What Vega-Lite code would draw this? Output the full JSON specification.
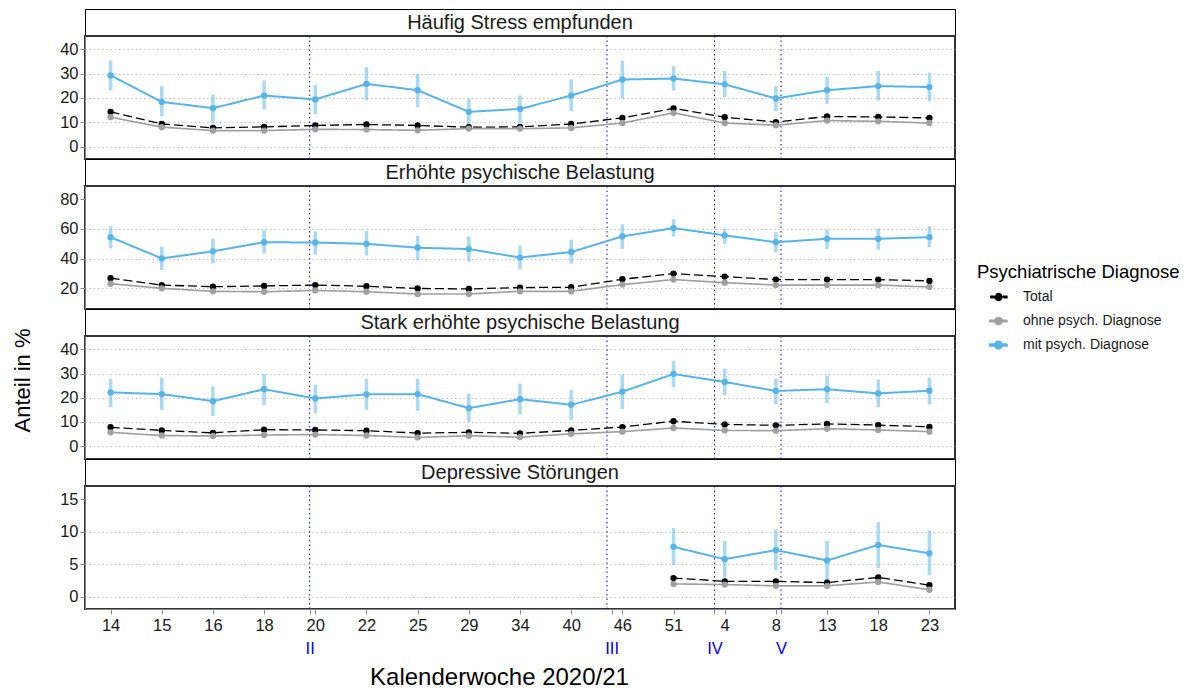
{
  "$schema": "https://vega.github.io/schema/vega-lite/v6.json",
  "padding": {"left": 10, "top": 8, "right": 5, "bottom": 5},
  "background": "white",
  "bounds": "flush",
  "config": {
    "font": "Liberation Sans",
    "axis": {"labelFont": "Liberation Sans", "titleFont": "Liberation Sans", "labelColor": "#1a1a1a", "titleColor": "#000", "tickColor": "#888", "domainColor": "#888", "tickSize": 5, "labelFontSize": 16.5, "titleFontWeight": "normal", "labelOverlap": false},
    "legend": {"labelFont": "Liberation Sans", "titleFont": "Liberation Sans", "orient": "none", "legendX": 892, "legendY": 254, "titleFontSize": 18.5, "titleFontWeight": "normal", "titleColor": "#000", "titleLimit": 400, "labelLimit": 300, "labelFontSize": 14, "labelColor": "#1a1a1a", "symbolType": "M-1,-0.09H1V0.09H-1Z M0.41,0 A0.41,0.41 0 1,1 -0.41,0 A0.41,0.41 0 1,1 0.41,0Z", "symbolSize": 289, "symbolStrokeWidth": 0, "symbolOffset": 12, "rowPadding": 7, "labelOffset": 15, "titlePadding": 6}
  },
  "spacing": 0,
  "datasets": {
    "strips": [
      {"p": 1, "label": "Häufig Stress empfunden"},
      {"p": 2, "label": "Erhöhte psychische Belastung"},
      {"p": 3, "label": "Stark erhöhte psychische Belastung"},
      {"p": 4, "label": "Depressive Störungen"}
    ],
    "vl": [
      {"i": 3.89, "welle": "II"},
      {"i": 9.7, "welle": "III"},
      {"i": 11.8, "welle": "IV"},
      {"i": 13.1, "welle": "V"}
    ],
    "d": [
      {"p":1,"i":0,"g":"mit psych. Diagnose","v":29.3,"lo":23.1,"hi":35.5},
      {"p":1,"i":1,"g":"mit psych. Diagnose","v":18.4,"lo":12.5,"hi":24.9},
      {"p":1,"i":2,"g":"mit psych. Diagnose","v":15.8,"lo":9.7,"hi":21.4},
      {"p":1,"i":3,"g":"mit psych. Diagnose","v":21.0,"lo":15.3,"hi":27.2},
      {"p":1,"i":4,"g":"mit psych. Diagnose","v":19.4,"lo":13.4,"hi":25.3},
      {"p":1,"i":5,"g":"mit psych. Diagnose","v":25.8,"lo":19.0,"hi":32.7},
      {"p":1,"i":6,"g":"mit psych. Diagnose","v":23.2,"lo":16.2,"hi":29.9},
      {"p":1,"i":7,"g":"mit psych. Diagnose","v":14.3,"lo":8.8,"hi":19.8},
      {"p":1,"i":8,"g":"mit psych. Diagnose","v":15.5,"lo":9.7,"hi":21.0},
      {"p":1,"i":9,"g":"mit psych. Diagnose","v":21.0,"lo":14.6,"hi":27.6},
      {"p":1,"i":10,"g":"mit psych. Diagnose","v":27.6,"lo":20.0,"hi":35.2},
      {"p":1,"i":11,"g":"mit psych. Diagnose","v":28.0,"lo":23.1,"hi":33.1},
      {"p":1,"i":12,"g":"mit psych. Diagnose","v":25.6,"lo":20.3,"hi":31.1},
      {"p":1,"i":13,"g":"mit psych. Diagnose","v":19.8,"lo":14.6,"hi":24.9},
      {"p":1,"i":14,"g":"mit psych. Diagnose","v":23.2,"lo":17.6,"hi":28.6},
      {"p":1,"i":15,"g":"mit psych. Diagnose","v":24.9,"lo":19.0,"hi":31.1},
      {"p":1,"i":16,"g":"mit psych. Diagnose","v":24.5,"lo":18.7,"hi":30.4},
      {"p":1,"i":0,"g":"Total","v":14.3},
      {"p":1,"i":1,"g":"Total","v":9.3},
      {"p":1,"i":2,"g":"Total","v":7.7},
      {"p":1,"i":3,"g":"Total","v":8.1},
      {"p":1,"i":4,"g":"Total","v":8.7},
      {"p":1,"i":5,"g":"Total","v":9.1},
      {"p":1,"i":6,"g":"Total","v":8.7},
      {"p":1,"i":7,"g":"Total","v":8.0},
      {"p":1,"i":8,"g":"Total","v":8.1},
      {"p":1,"i":9,"g":"Total","v":9.3},
      {"p":1,"i":10,"g":"Total","v":11.8},
      {"p":1,"i":11,"g":"Total","v":15.7},
      {"p":1,"i":12,"g":"Total","v":12.1},
      {"p":1,"i":13,"g":"Total","v":10.1},
      {"p":1,"i":14,"g":"Total","v":12.4},
      {"p":1,"i":15,"g":"Total","v":12.2},
      {"p":1,"i":16,"g":"Total","v":11.8},
      {"p":1,"i":0,"g":"ohne psych. Diagnose","v":12.1},
      {"p":1,"i":1,"g":"ohne psych. Diagnose","v":8.0},
      {"p":1,"i":2,"g":"ohne psych. Diagnose","v":6.6},
      {"p":1,"i":3,"g":"ohne psych. Diagnose","v":6.6},
      {"p":1,"i":4,"g":"ohne psych. Diagnose","v":7.1},
      {"p":1,"i":5,"g":"ohne psych. Diagnose","v":7.0},
      {"p":1,"i":6,"g":"ohne psych. Diagnose","v":6.7},
      {"p":1,"i":7,"g":"ohne psych. Diagnose","v":7.4},
      {"p":1,"i":8,"g":"ohne psych. Diagnose","v":7.4},
      {"p":1,"i":9,"g":"ohne psych. Diagnose","v":7.7},
      {"p":1,"i":10,"g":"ohne psych. Diagnose","v":9.7},
      {"p":1,"i":11,"g":"ohne psych. Diagnose","v":13.9},
      {"p":1,"i":12,"g":"ohne psych. Diagnose","v":9.7},
      {"p":1,"i":13,"g":"ohne psych. Diagnose","v":8.8},
      {"p":1,"i":14,"g":"ohne psych. Diagnose","v":10.7},
      {"p":1,"i":15,"g":"ohne psych. Diagnose","v":10.4},
      {"p":1,"i":16,"g":"ohne psych. Diagnose","v":9.7},

      {"p":2,"i":0,"g":"mit psych. Diagnose","v":54.4,"lo":46.9,"hi":61.7},
      {"p":2,"i":1,"g":"mit psych. Diagnose","v":40.1,"lo":32.2,"hi":48.1},
      {"p":2,"i":2,"g":"mit psych. Diagnose","v":44.9,"lo":36.7,"hi":53.3},
      {"p":2,"i":3,"g":"mit psych. Diagnose","v":51.0,"lo":43.5,"hi":59.0},
      {"p":2,"i":4,"g":"mit psych. Diagnose","v":50.8,"lo":42.7,"hi":58.3},
      {"p":2,"i":5,"g":"mit psych. Diagnose","v":49.9,"lo":42.0,"hi":58.5},
      {"p":2,"i":6,"g":"mit psych. Diagnose","v":47.3,"lo":38.9,"hi":55.4},
      {"p":2,"i":7,"g":"mit psych. Diagnose","v":46.4,"lo":38.0,"hi":54.8},
      {"p":2,"i":8,"g":"mit psych. Diagnose","v":40.7,"lo":32.5,"hi":48.6},
      {"p":2,"i":9,"g":"mit psych. Diagnose","v":44.4,"lo":36.6,"hi":52.7},
      {"p":2,"i":10,"g":"mit psych. Diagnose","v":54.9,"lo":46.5,"hi":63.1},
      {"p":2,"i":11,"g":"mit psych. Diagnose","v":60.5,"lo":54.9,"hi":66.5},
      {"p":2,"i":12,"g":"mit psych. Diagnose","v":55.6,"lo":49.9,"hi":60.1},
      {"p":2,"i":13,"g":"mit psych. Diagnose","v":51.0,"lo":44.2,"hi":57.8},
      {"p":2,"i":14,"g":"mit psych. Diagnose","v":53.3,"lo":46.5,"hi":59.5},
      {"p":2,"i":15,"g":"mit psych. Diagnose","v":53.3,"lo":45.9,"hi":60.1},
      {"p":2,"i":16,"g":"mit psych. Diagnose","v":54.4,"lo":47.6,"hi":61.7},
      {"p":2,"i":0,"g":"Total","v":26.8},
      {"p":2,"i":1,"g":"Total","v":22.2},
      {"p":2,"i":2,"g":"Total","v":21.1},
      {"p":2,"i":3,"g":"Total","v":21.6},
      {"p":2,"i":4,"g":"Total","v":22.2},
      {"p":2,"i":5,"g":"Total","v":21.4},
      {"p":2,"i":6,"g":"Total","v":19.9},
      {"p":2,"i":7,"g":"Total","v":19.6},
      {"p":2,"i":8,"g":"Total","v":20.5},
      {"p":2,"i":9,"g":"Total","v":20.7},
      {"p":2,"i":10,"g":"Total","v":26.1},
      {"p":2,"i":11,"g":"Total","v":29.9},
      {"p":2,"i":12,"g":"Total","v":27.9},
      {"p":2,"i":13,"g":"Total","v":25.9},
      {"p":2,"i":14,"g":"Total","v":25.9},
      {"p":2,"i":15,"g":"Total","v":25.9},
      {"p":2,"i":16,"g":"Total","v":25.0},
      {"p":2,"i":0,"g":"ohne psych. Diagnose","v":23.1},
      {"p":2,"i":1,"g":"ohne psych. Diagnose","v":20.0},
      {"p":2,"i":2,"g":"ohne psych. Diagnose","v":18.0},
      {"p":2,"i":3,"g":"ohne psych. Diagnose","v":17.7},
      {"p":2,"i":4,"g":"ohne psych. Diagnose","v":18.6},
      {"p":2,"i":5,"g":"ohne psych. Diagnose","v":17.7},
      {"p":2,"i":6,"g":"ohne psych. Diagnose","v":16.2},
      {"p":2,"i":7,"g":"ohne psych. Diagnose","v":16.2},
      {"p":2,"i":8,"g":"ohne psych. Diagnose","v":18.0},
      {"p":2,"i":9,"g":"ohne psych. Diagnose","v":18.0},
      {"p":2,"i":10,"g":"ohne psych. Diagnose","v":22.5},
      {"p":2,"i":11,"g":"ohne psych. Diagnose","v":25.9},
      {"p":2,"i":12,"g":"ohne psych. Diagnose","v":23.8},
      {"p":2,"i":13,"g":"ohne psych. Diagnose","v":22.2},
      {"p":2,"i":14,"g":"ohne psych. Diagnose","v":22.2},
      {"p":2,"i":15,"g":"ohne psych. Diagnose","v":22.2},
      {"p":2,"i":16,"g":"ohne psych. Diagnose","v":20.9},

      {"p":3,"i":0,"g":"mit psych. Diagnose","v":22.2,"lo":16.1,"hi":27.8},
      {"p":3,"i":1,"g":"mit psych. Diagnose","v":21.5,"lo":15.0,"hi":28.3},
      {"p":3,"i":2,"g":"mit psych. Diagnose","v":18.6,"lo":12.5,"hi":24.7},
      {"p":3,"i":3,"g":"mit psych. Diagnose","v":23.5,"lo":16.9,"hi":29.8},
      {"p":3,"i":4,"g":"mit psych. Diagnose","v":19.7,"lo":13.6,"hi":25.4},
      {"p":3,"i":5,"g":"mit psych. Diagnose","v":21.4,"lo":15.0,"hi":27.9},
      {"p":3,"i":6,"g":"mit psych. Diagnose","v":21.5,"lo":14.6,"hi":27.9},
      {"p":3,"i":7,"g":"mit psych. Diagnose","v":15.7,"lo":10.0,"hi":21.7},
      {"p":3,"i":8,"g":"mit psych. Diagnose","v":19.4,"lo":13.2,"hi":25.8},
      {"p":3,"i":9,"g":"mit psych. Diagnose","v":17.1,"lo":10.8,"hi":23.3},
      {"p":3,"i":10,"g":"mit psych. Diagnose","v":22.5,"lo":15.3,"hi":29.6},
      {"p":3,"i":11,"g":"mit psych. Diagnose","v":29.8,"lo":24.4,"hi":35.1},
      {"p":3,"i":12,"g":"mit psych. Diagnose","v":26.5,"lo":21.1,"hi":32.1},
      {"p":3,"i":13,"g":"mit psych. Diagnose","v":22.8,"lo":17.3,"hi":27.9},
      {"p":3,"i":14,"g":"mit psych. Diagnose","v":23.5,"lo":17.8,"hi":29.2},
      {"p":3,"i":15,"g":"mit psych. Diagnose","v":21.8,"lo":16.1,"hi":27.5},
      {"p":3,"i":16,"g":"mit psych. Diagnose","v":22.9,"lo":17.3,"hi":28.3},
      {"p":3,"i":0,"g":"Total","v":7.8},
      {"p":3,"i":1,"g":"Total","v":6.5},
      {"p":3,"i":2,"g":"Total","v":5.5},
      {"p":3,"i":3,"g":"Total","v":6.8},
      {"p":3,"i":4,"g":"Total","v":6.7},
      {"p":3,"i":5,"g":"Total","v":6.4},
      {"p":3,"i":6,"g":"Total","v":5.4},
      {"p":3,"i":7,"g":"Total","v":5.7},
      {"p":3,"i":8,"g":"Total","v":5.3},
      {"p":3,"i":9,"g":"Total","v":6.5},
      {"p":3,"i":10,"g":"Total","v":7.9},
      {"p":3,"i":11,"g":"Total","v":10.3},
      {"p":3,"i":12,"g":"Total","v":9.0},
      {"p":3,"i":13,"g":"Total","v":8.6},
      {"p":3,"i":14,"g":"Total","v":9.2},
      {"p":3,"i":15,"g":"Total","v":8.7},
      {"p":3,"i":16,"g":"Total","v":8.0},
      {"p":3,"i":0,"g":"ohne psych. Diagnose","v":5.7},
      {"p":3,"i":1,"g":"ohne psych. Diagnose","v":4.4},
      {"p":3,"i":2,"g":"ohne psych. Diagnose","v":4.2},
      {"p":3,"i":3,"g":"ohne psych. Diagnose","v":4.6},
      {"p":3,"i":4,"g":"ohne psych. Diagnose","v":4.8},
      {"p":3,"i":5,"g":"ohne psych. Diagnose","v":4.4},
      {"p":3,"i":6,"g":"ohne psych. Diagnose","v":3.6},
      {"p":3,"i":7,"g":"ohne psych. Diagnose","v":4.3},
      {"p":3,"i":8,"g":"ohne psych. Diagnose","v":3.7},
      {"p":3,"i":9,"g":"ohne psych. Diagnose","v":5.1},
      {"p":3,"i":10,"g":"ohne psych. Diagnose","v":6.0},
      {"p":3,"i":11,"g":"ohne psych. Diagnose","v":7.5},
      {"p":3,"i":12,"g":"ohne psych. Diagnose","v":6.5},
      {"p":3,"i":13,"g":"ohne psych. Diagnose","v":6.4},
      {"p":3,"i":14,"g":"ohne psych. Diagnose","v":7.2},
      {"p":3,"i":15,"g":"ohne psych. Diagnose","v":6.7},
      {"p":3,"i":16,"g":"ohne psych. Diagnose","v":6.0},

      {"p":4,"i":11,"g":"mit psych. Diagnose","v":7.7,"lo":4.9,"hi":10.6},
      {"p":4,"i":12,"g":"mit psych. Diagnose","v":5.8,"lo":3.0,"hi":8.6},
      {"p":4,"i":13,"g":"mit psych. Diagnose","v":7.2,"lo":4.1,"hi":10.4},
      {"p":4,"i":14,"g":"mit psych. Diagnose","v":5.6,"lo":2.5,"hi":8.6},
      {"p":4,"i":15,"g":"mit psych. Diagnose","v":8.0,"lo":4.4,"hi":11.5},
      {"p":4,"i":16,"g":"mit psych. Diagnose","v":6.7,"lo":3.4,"hi":10.2},
      {"p":4,"i":11,"g":"Total","v":2.9},
      {"p":4,"i":12,"g":"Total","v":2.4},
      {"p":4,"i":13,"g":"Total","v":2.4},
      {"p":4,"i":14,"g":"Total","v":2.2},
      {"p":4,"i":15,"g":"Total","v":3.0},
      {"p":4,"i":16,"g":"Total","v":1.8},
      {"p":4,"i":11,"g":"ohne psych. Diagnose","v":2.0},
      {"p":4,"i":12,"g":"ohne psych. Diagnose","v":1.9},
      {"p":4,"i":13,"g":"ohne psych. Diagnose","v":1.7},
      {"p":4,"i":14,"g":"ohne psych. Diagnose","v":1.7},
      {"p":4,"i":15,"g":"ohne psych. Diagnose","v":2.3},
      {"p":4,"i":16,"g":"ohne psych. Diagnose","v":1.1}
    ]
  },
  "vconcat": [
    {"width": 870, "height": 27, "view": {"stroke": "#000", "strokeWidth": 1, "fill": "white"},
     "data": {"name": "strips"}, "transform": [{"filter": "datum.p == 1"}],
     "mark": {"type": "text", "fontSize": 20, "color": "#1a1a1a"}, "encoding": {"text": {"field": "label"}}},
    {"width": 870, "height": 123, "view": {"stroke": "#333", "strokeWidth": 2},
     "layer": [
       {"data": {"name": "vl"}, "mark": {"type": "rule", "color": "#0000ff", "strokeDash": [1.5, 3], "strokeWidth": 1},
        "encoding": {"x": {"field": "i", "type": "quantitative", "scale": {"domain": [-0.5, 16.5], "nice": false, "zero": false}, "axis": null}}},
       {"data": {"name": "d"}, "transform": [{"filter": "datum.p == 1 && isValid(datum.lo)"}],
        "mark": {"type": "rule", "strokeWidth": 3.5, "opacity": 0.5, "color": "#56B4E9"},
        "encoding": {"x": {"field": "i", "type": "quantitative", "axis": null},
                     "y": {"field": "lo", "type": "quantitative", "scale": {"domain": [-5.1, 45.5], "nice": false, "zero": false}, "axis": {"values": [0, 10, 20, 30, 40], "title": null, "grid": true, "gridDash": [1.2, 3], "gridColor": "#bbbbbb"}},
                     "y2": {"field": "hi"}}},
       {"data": {"name": "d"}, "transform": [{"filter": "datum.p == 1"}],
        "mark": {"type": "line"},
        "encoding": {"x": {"field": "i", "type": "quantitative", "axis": null},
                     "y": {"field": "v", "type": "quantitative", "scale": {"domain": [-5.1, 45.5], "nice": false, "zero": false}, "axis": {"values": [0, 10, 20, 30, 40], "title": null, "grid": true, "gridDash": [1.2, 3], "gridColor": "#bbbbbb"}},
                     "color": {"field": "g", "type": "nominal", "title": "Psychiatrische Diagnose", "scale": {"domain": ["Total", "ohne psych. Diagnose", "mit psych. Diagnose"], "range": ["#000000", "#a0a0a0", "#56B4E9"]}, "legend": {}},
                     "strokeDash": {"field": "g", "type": "nominal", "scale": {"domain": ["Total", "ohne psych. Diagnose", "mit psych. Diagnose"], "range": [[9, 4], [1, 0], [1, 0]]}, "legend": null},
                     "strokeWidth": {"field": "g", "type": "nominal", "scale": {"domain": ["Total", "ohne psych. Diagnose", "mit psych. Diagnose"], "range": [1.3, 2, 2]}, "legend": null}}},
       {"data": {"name": "d"}, "transform": [{"filter": "datum.p == 1"}],
        "mark": {"type": "point", "filled": true, "size": 40, "opacity": 1},
        "encoding": {"x": {"field": "i", "type": "quantitative", "axis": null},
                     "y": {"field": "v", "type": "quantitative", "scale": {"domain": [-5.1, 45.5], "nice": false, "zero": false}, "axis": {"values": [0, 10, 20, 30, 40], "title": null, "grid": true, "gridDash": [1.2, 3], "gridColor": "#bbbbbb"}},
                     "color": {"field": "g", "type": "nominal", "title": "Psychiatrische Diagnose", "legend": {}}}}
     ]},
    {"width": 870, "height": 27, "view": {"stroke": "#000", "strokeWidth": 1, "fill": "white"},
     "data": {"name": "strips"}, "transform": [{"filter": "datum.p == 2"}],
     "mark": {"type": "text", "fontSize": 20, "color": "#1a1a1a"}, "encoding": {"text": {"field": "label"}}},
    {"width": 870, "height": 123, "view": {"stroke": "#333", "strokeWidth": 2},
     "layer": [
       {"data": {"name": "vl"}, "mark": {"type": "rule", "color": "#0000ff", "strokeDash": [1.5, 3], "strokeWidth": 1},
        "encoding": {"x": {"field": "i", "type": "quantitative", "scale": {"domain": [-0.5, 16.5], "nice": false, "zero": false}, "axis": null}}},
       {"data": {"name": "d"}, "transform": [{"filter": "datum.p == 2 && isValid(datum.lo)"}],
        "mark": {"type": "rule", "strokeWidth": 3.5, "opacity": 0.5, "color": "#56B4E9"},
        "encoding": {"x": {"field": "i", "type": "quantitative", "axis": null},
                     "y": {"field": "lo", "type": "quantitative", "scale": {"domain": [6.1, 88.8], "nice": false, "zero": false}, "axis": {"values": [20, 40, 60, 80], "title": null, "grid": true, "gridDash": [1.2, 3], "gridColor": "#bbbbbb", "gridOpacity": {"condition": {"test": "datum.value >= 80", "value": 0}, "value": 1}}},
                     "y2": {"field": "hi"}}},
       {"data": {"name": "d"}, "transform": [{"filter": "datum.p == 2"}],
        "mark": {"type": "line"},
        "encoding": {"x": {"field": "i", "type": "quantitative", "axis": null},
                     "y": {"field": "v", "type": "quantitative", "scale": {"domain": [6.1, 88.8], "nice": false, "zero": false}, "axis": {"values": [20, 40, 60, 80], "title": null, "grid": true, "gridDash": [1.2, 3], "gridColor": "#bbbbbb", "gridOpacity": {"condition": {"test": "datum.value >= 80", "value": 0}, "value": 1}}},
                     "color": {"field": "g", "type": "nominal", "title": "Psychiatrische Diagnose", "legend": {}},
                     "strokeDash": {"field": "g", "type": "nominal", "legend": null},
                     "strokeWidth": {"field": "g", "type": "nominal", "legend": null}}},
       {"data": {"name": "d"}, "transform": [{"filter": "datum.p == 2"}],
        "mark": {"type": "point", "filled": true, "size": 40, "opacity": 1},
        "encoding": {"x": {"field": "i", "type": "quantitative", "axis": null},
                     "y": {"field": "v", "type": "quantitative", "scale": {"domain": [6.1, 88.8], "nice": false, "zero": false}, "axis": {"values": [20, 40, 60, 80], "title": null, "grid": true, "gridDash": [1.2, 3], "gridColor": "#bbbbbb", "gridOpacity": {"condition": {"test": "datum.value >= 80", "value": 0}, "value": 1}}},
                     "color": {"field": "g", "type": "nominal", "title": "Psychiatrische Diagnose", "legend": {}}}}
     ]},
    {"width": 870, "height": 27, "view": {"stroke": "#000", "strokeWidth": 1, "fill": "white"},
     "data": {"name": "strips"}, "transform": [{"filter": "datum.p == 3"}],
     "mark": {"type": "text", "fontSize": 20, "color": "#1a1a1a"}, "encoding": {"text": {"field": "label"}}},
    {"width": 870, "height": 123, "view": {"stroke": "#333", "strokeWidth": 2},
     "layer": [
       {"data": {"name": "vl"}, "mark": {"type": "rule", "color": "#0000ff", "strokeDash": [1.5, 3], "strokeWidth": 1},
        "encoding": {"x": {"field": "i", "type": "quantitative", "scale": {"domain": [-0.5, 16.5], "nice": false, "zero": false}, "axis": null}}},
       {"data": {"name": "d"}, "transform": [{"filter": "datum.p == 3 && isValid(datum.lo)"}],
        "mark": {"type": "rule", "strokeWidth": 3.5, "opacity": 0.5, "color": "#56B4E9"},
        "encoding": {"x": {"field": "i", "type": "quantitative", "axis": null},
                     "y": {"field": "lo", "type": "quantitative", "scale": {"domain": [-5.3, 45.5], "nice": false, "zero": false}, "axis": {"values": [0, 10, 20, 30, 40], "title": "Anteil in %", "titleFontSize": 22, "titlePadding": 25, "titleY": 44, "grid": true, "gridDash": [1.2, 3], "gridColor": "#bbbbbb"}},
                     "y2": {"field": "hi"}}},
       {"data": {"name": "d"}, "transform": [{"filter": "datum.p == 3"}],
        "mark": {"type": "line"},
        "encoding": {"x": {"field": "i", "type": "quantitative", "axis": null},
                     "y": {"field": "v", "type": "quantitative", "scale": {"domain": [-5.3, 45.5], "nice": false, "zero": false}, "axis": {"values": [0, 10, 20, 30, 40], "title": "Anteil in %", "titleFontSize": 22, "titlePadding": 25, "titleY": 44, "grid": true, "gridDash": [1.2, 3], "gridColor": "#bbbbbb"}},
                     "color": {"field": "g", "type": "nominal", "title": "Psychiatrische Diagnose", "legend": {}},
                     "strokeDash": {"field": "g", "type": "nominal", "legend": null},
                     "strokeWidth": {"field": "g", "type": "nominal", "legend": null}}},
       {"data": {"name": "d"}, "transform": [{"filter": "datum.p == 3"}],
        "mark": {"type": "point", "filled": true, "size": 40, "opacity": 1},
        "encoding": {"x": {"field": "i", "type": "quantitative", "axis": null},
                     "y": {"field": "v", "type": "quantitative", "scale": {"domain": [-5.3, 45.5], "nice": false, "zero": false}, "axis": {"values": [0, 10, 20, 30, 40], "title": "Anteil in %", "titleFontSize": 22, "titlePadding": 25, "titleY": 44, "grid": true, "gridDash": [1.2, 3], "gridColor": "#bbbbbb"}},
                     "color": {"field": "g", "type": "nominal", "title": "Psychiatrische Diagnose", "legend": {}}}}
     ]},
    {"width": 870, "height": 27, "view": {"stroke": "#000", "strokeWidth": 1, "fill": "white"},
     "data": {"name": "strips"}, "transform": [{"filter": "datum.p == 4"}],
     "mark": {"type": "text", "fontSize": 20, "color": "#1a1a1a"}, "encoding": {"text": {"field": "label"}}},
    {"width": 870, "height": 123, "view": {"stroke": "#333", "strokeWidth": 2},
     "resolve": {"axis": {"x": "independent"}},
     "layer": [
       {"data": {"name": "vl"}, "mark": {"type": "rule", "color": "#0000ff", "strokeDash": [1.5, 3], "strokeWidth": 1},
        "encoding": {"x": {"field": "i", "type": "quantitative", "scale": {"domain": [-0.5, 16.5], "nice": false, "zero": false},
                           "axis": {"orient": "bottom", "values": [3.89, 9.79, 11.8, 13.1], "labelExpr": "datum.value < 5 ? 'II' : datum.value < 10 ? 'III' : datum.value < 12 ? 'IV' : 'V'", "labelColor": "#0000ff", "labelPadding": 26, "domain": false, "grid": false, "title": null}}}},
       {"data": {"name": "d"}, "transform": [{"filter": "datum.p == 4 && isValid(datum.lo)"}],
        "mark": {"type": "rule", "strokeWidth": 3.5, "opacity": 0.5, "color": "#56B4E9"},
        "encoding": {"x": {"field": "i", "type": "quantitative", "axis": null},
                     "y": {"field": "lo", "type": "quantitative", "scale": {"domain": [-1.86, 17.06], "nice": false, "zero": false}, "axis": {"values": [0, 5, 10, 15], "title": null, "grid": true, "gridDash": [1.2, 3], "gridColor": "#bbbbbb", "gridOpacity": {"condition": {"test": "datum.value >= 15", "value": 0}, "value": 1}}},
                     "y2": {"field": "hi"}}},
       {"data": {"name": "d"}, "transform": [{"filter": "datum.p == 4"}],
        "mark": {"type": "line"},
        "encoding": {"x": {"field": "i", "type": "quantitative",
                           "axis": {"orient": "bottom", "values": [0,1,2,3,4,5,6,7,8,9,10,11,12,13,14,15,16], "labelExpr": "['14','15','16','18','20','22','25','29','34','40','46','51','4','8','13','18','23'][datum.value]", "labelPadding": 3, "grid": false, "title": "Kalenderwoche 2020/21", "titleFontSize": 24, "titlePadding": 32, "titleX": 414}},
                     "y": {"field": "v", "type": "quantitative", "scale": {"domain": [-1.86, 17.06], "nice": false, "zero": false}, "axis": {"values": [0, 5, 10, 15], "title": null, "grid": true, "gridDash": [1.2, 3], "gridColor": "#bbbbbb", "gridOpacity": {"condition": {"test": "datum.value >= 15", "value": 0}, "value": 1}}},
                     "color": {"field": "g", "type": "nominal", "title": "Psychiatrische Diagnose", "legend": {}},
                     "strokeDash": {"field": "g", "type": "nominal", "legend": null},
                     "strokeWidth": {"field": "g", "type": "nominal", "legend": null}}},
       {"data": {"name": "d"}, "transform": [{"filter": "datum.p == 4"}],
        "mark": {"type": "point", "filled": true, "size": 40, "opacity": 1},
        "encoding": {"x": {"field": "i", "type": "quantitative", "axis": null},
                     "y": {"field": "v", "type": "quantitative", "scale": {"domain": [-1.86, 17.06], "nice": false, "zero": false}, "axis": {"values": [0, 5, 10, 15], "title": null, "grid": true, "gridDash": [1.2, 3], "gridColor": "#bbbbbb", "gridOpacity": {"condition": {"test": "datum.value >= 15", "value": 0}, "value": 1}}},
                     "color": {"field": "g", "type": "nominal", "title": "Psychiatrische Diagnose", "legend": {}}}}
     ]}
  ]
}
